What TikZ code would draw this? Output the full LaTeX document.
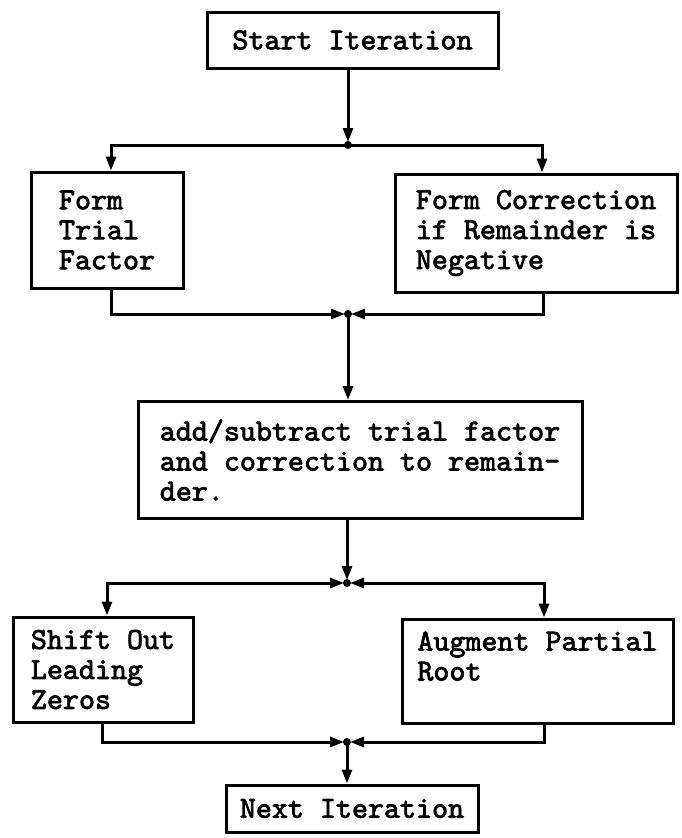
\documentclass[tikz,border=0pt]{standalone}
\usepackage{fontspec}
\usetikzlibrary{arrows.meta}
\newfontfamily\twfont{lmmono10-regular}[Extension=.otf, FakeBold=2.5]
\newcommand\twtext{\twfont\fontsize{30.5}{30}\selectfont}
\begin{document}
\begin{tikzpicture}[x=1pt,y=-1pt,
  box/.style={draw, line width=3pt, align=left, inner sep=0pt, font=\twtext},
  link/.style={line width=3pt, -{Triangle[length=14pt,width=10pt]}},
  twoway/.style={line width=3pt, {Triangle[length=14pt,width=10pt]}-{Triangle[length=14pt,width=10pt]}},
  dot/.style={fill=black}]
\useasboundingbox (0,0) rectangle (681,838);

% junction points
\coordinate (j1) at (348,145);
\coordinate (j2) at (348,314);
\coordinate (j3) at (347,583);
\coordinate (j4) at (347,742);

% process boxes
\node[box, align=center, minimum width=291pt, minimum height=56pt] (start) at (352.5,40) {Start Iteration};
\node[box, minimum width=152pt, minimum height=116pt] (trial) at (107,230) {Form\\Trial\\Factor};
\node[box, minimum width=282pt, minimum height=118pt] (corr) at (536,233) {Form Correction\\if Remainder is\\Negative};
\node[box, minimum width=444pt, minimum height=117pt] (mid) at (360,460) {add/subtract trial factor\\and correction to remain-\\der.};
\node[box, minimum width=180pt, minimum height=105pt] (shift) at (103,669.5) {Shift Out\\Leading\\Zeros};
\node[box, minimum width=271pt, minimum height=104pt] (aug) at (537.5,671) {Augment Partial\\Root\\\mbox{}};
\node[box, align=center, minimum width=252pt, minimum height=47pt] (next) at (352,808.5) {Next Iteration};

% connectors
\draw[link, shorten >=3pt] (start.south -| j1) -- (j1);
\draw[link] (j1) -| ([xshift=4pt]trial.north);
\draw[link] (j1) -| ([xshift=6pt]corr.north);
\draw[link, shorten >=3pt] ([xshift=4pt]trial.south) |- (j2);
\draw[link, shorten >=3pt] ([xshift=7pt]corr.south) |- (j2);
\draw[link] (j2) -- (mid.north -| j2);
\draw[link, shorten >=3pt] (mid.south -| j3) -- (j3);
\draw[twoway, shorten <=3pt] (j3) -| ([xshift=4pt]shift.north);
\draw[twoway, shorten <=3pt] (j3) -| ([xshift=6.5pt]aug.north);
\draw[link, shorten >=3pt] ([xshift=-1pt]shift.south) |- (j4);
\draw[link, shorten >=3pt] ([xshift=6.5pt]aug.south) |- (j4);
\draw[link] (j4) -- (next.north -| j4);

% junction dots
\foreach \j in {j1,j2,j3,j4} \fill[dot] (\j) circle (4pt);
\end{tikzpicture}
\end{document}
